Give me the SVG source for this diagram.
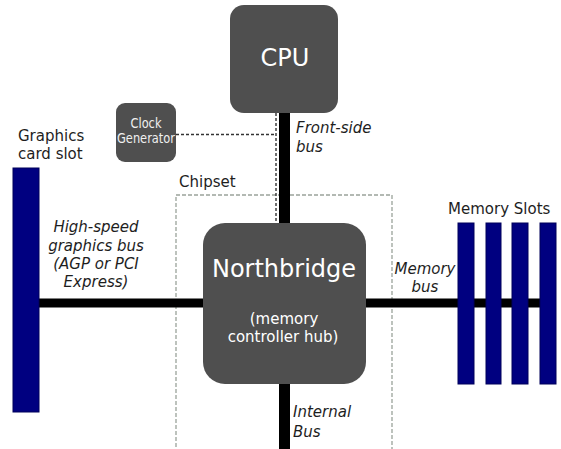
<svg xmlns="http://www.w3.org/2000/svg" width="561" height="449" viewBox="0 0 561 449">
<style>
.box{fill:#4f4f4f}
.slot{fill:#000080;stroke:#00005a;stroke-width:1}
.bus{stroke:#000;fill:none}
.lbl{font-family:"DejaVu Sans","Liberation Sans",sans-serif;font-size:15px;fill:#1e1e1e}
.it{font-style:italic}
.wt{fill:#fff;font-family:"DejaVu Sans","Liberation Sans",sans-serif}
.cg{fill:#f0f0f0;font-family:"DejaVu Sans Condensed","DejaVu Sans",sans-serif;font-size:14.5px}
.sig{stroke:#333;stroke-width:1.4;stroke-dasharray:3,2;fill:none}
.chip{stroke:#9aa39a;stroke-width:1.3;stroke-dasharray:4,2;fill:none}
</style>
<rect width="561" height="449" fill="#fff"/>
<g id="chipset">
<rect class="chip" x="176" y="195" width="216" height="270"/>
<text class="lbl" x="179" y="187">Chipset</text>
</g>
<g id="connectors">
<line class="bus" x1="284.5" y1="110" x2="284.5" y2="226" stroke-width="11"/>
<line class="bus" x1="284.5" y1="380" x2="284.5" y2="449" stroke-width="11"/>
<line class="bus" x1="39" y1="303" x2="206" y2="303" stroke-width="9"/>
<line class="bus" x1="363" y1="303" x2="542" y2="303" stroke-width="9"/>
<polyline class="sig" points="176,134.5 276,134.5"/>
<line class="sig" x1="276" y1="113" x2="276" y2="223"/>
<text class="lbl it" x="296" y="133">Front-side</text>
<text class="lbl it" x="296" y="152">bus</text>
<text class="lbl it" text-anchor="middle" x="96" y="232">High-speed</text>
<text class="lbl it" text-anchor="middle" x="96" y="251">graphics bus</text>
<text class="lbl it" text-anchor="middle" x="96" y="269">(AGP or PCI</text>
<text class="lbl it" text-anchor="middle" x="96" y="287">Express)</text>
<text class="lbl it" text-anchor="middle" x="425" y="274">Memory</text>
<text class="lbl it" text-anchor="middle" x="425" y="292">bus</text>
<text class="lbl it" x="293" y="417">Internal</text>
<text class="lbl it" x="293" y="437">Bus</text>
</g>
<g id="cpu">
<rect class="box" x="230" y="5" width="108" height="108" rx="14"/>
<text class="wt" x="285" y="66" font-size="24" text-anchor="middle">CPU</text>
</g>
<g id="clock">
<rect class="box" x="116" y="103" width="60" height="59" rx="9"/>
<text class="cg" x="146" y="128" text-anchor="middle" textLength="31" lengthAdjust="spacingAndGlyphs">Clock</text>
<text class="cg" x="146" y="143" text-anchor="middle" textLength="58" lengthAdjust="spacingAndGlyphs">Generator</text>
</g>
<g id="northbridge">
<rect class="box" x="203" y="223" width="163" height="161" rx="22"/>
<text class="wt" x="284" y="277" font-size="24" text-anchor="middle">Northbridge</text>
<text class="wt" x="284" y="324" font-size="15" text-anchor="middle">(memory</text>
<text class="wt" x="283" y="342" font-size="15" text-anchor="middle">controller hub)</text>
</g>
<g id="graphics-slot">
<rect class="slot" x="13" y="168" width="26" height="244"/>
<text class="lbl" x="18" y="141">Graphics</text>
<text class="lbl" x="18" y="159">card slot</text>
</g>
<g id="memory-slots">
<rect class="slot" x="458" y="223" width="16" height="161"/>
<rect class="slot" x="486" y="223" width="15" height="161"/>
<rect class="slot" x="512" y="223" width="16" height="161"/>
<rect class="slot" x="540" y="223" width="16" height="161"/>
<text class="lbl" x="448" y="214">Memory Slots</text>
</g>
</svg>
